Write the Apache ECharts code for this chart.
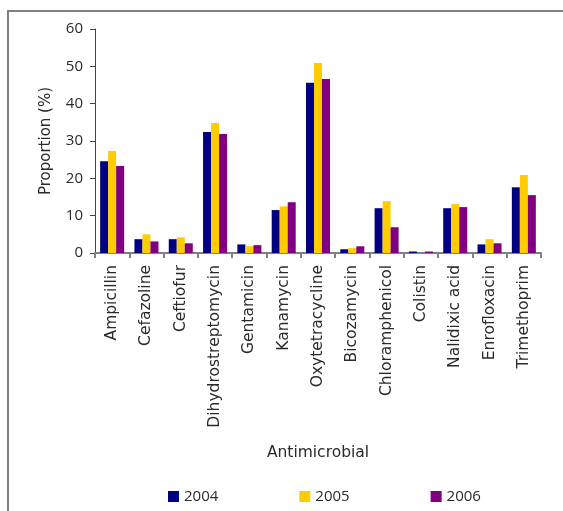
<!DOCTYPE html>
<html>
<head>
<meta charset="utf-8">
<script src="https://cdn.jsdelivr.net/npm/echarts@6/dist/echarts.min.js"></script>
<style>
  html, body { margin: 0; padding: 0; background: #fff; }
  #chart { width: 563px; height: 511px; }
</style>
</head>
<body>
<div id="chart"></div>
<script>
// Antimicrobial resistance proportions by year
const categories = ['Ampicillin', 'Cefazoline', 'Ceftiofur', 'Dihydrostreptomycin', 'Gentamicin',
  'Kanamycin', 'Oxytetracycline', 'Bicozamycin', 'Chloramphenicol', 'Colistin',
  'Nalidixic acid', 'Enrofloxacin', 'Trimethoprim'];
const years = ['2004', '2005', '2006'];
const values2004 = [24.6, 3.7, 3.7, 32.4, 2.3, 11.5, 45.6, 1.0, 12.0, 0.4, 12.0, 2.3, 17.6];
const values2005 = [27.3, 5.0, 4.2, 34.8, 1.8, 12.5, 50.9, 1.3, 13.9, 0.0, 13.1, 3.7, 20.9];
const values2006 = [23.3, 3.1, 2.6, 31.9, 2.1, 13.6, 46.6, 1.8, 6.9, 0.4, 12.3, 2.6, 15.5];
const yTicks = [0, 10, 20, 30, 40, 50, 60];

const colors = ['#000080', '#FFCC00', '#800080'];
const wordFont = '"DejaVu Sans", Verdana, sans-serif';
const numberFont = '"Open Sans", "DejaVu Sans", sans-serif';
const textColor = '#2a2a2a';

const chart = echarts.init(document.getElementById('chart'), null, { renderer: 'canvas' });
const seriesData = [values2004, values2005, values2006];

chart.setOption({
  animation: false,
  color: colors,
  textStyle: { fontFamily: wordFont, color: textColor },
  grid: { left: 95, right: 22, top: 29, bottom: 258, containLabel: false },
  graphic: [
    {
      type: 'polyline',
      shape: { points: [[8, 511], [8, 11], [563, 11]] },
      style: { stroke: '#808080', lineWidth: 2, fill: null },
      silent: true
    }
  ],
  legend: {
    data: years,
    left: 163,
    top: 484,
    itemWidth: 11,
    itemHeight: 11,
    itemGap: 81,
    icon: 'rect',
    textStyle: { fontSize: 15, color: textColor, fontFamily: numberFont }
  },
  xAxis: {
    type: 'category',
    data: categories,
    name: 'Antimicrobial',
    nameLocation: 'middle',
    nameGap: 192,
    nameTextStyle: { fontSize: 15.5, color: textColor, fontFamily: wordFont },
    axisLine: { lineStyle: { color: '#808080', width: 2 } },
    axisTick: { show: true, alignWithLabel: false, length: 5, lineStyle: { color: '#808080', width: 2 } },
    axisLabel: { rotate: 90, fontSize: 15.5, color: textColor, margin: 12, interval: 0, fontFamily: wordFont },
    splitLine: { show: false }
  },
  yAxis: {
    type: 'value',
    min: 0,
    max: 60,
    interval: 10,
    name: 'Proportion (%)',
    nameLocation: 'middle',
    nameGap: 41,
    nameRotate: 90,
    nameTextStyle: { fontSize: 15, color: textColor, fontFamily: wordFont },
    axisLine: { show: true, lineStyle: { color: '#444', width: 1 } },
    axisTick: { show: true, length: 5, lineStyle: { color: '#444' } },
    axisLabel: {
      fontSize: 15, color: textColor, margin: 12, fontFamily: numberFont,
      formatter: function (v) { return yTicks.indexOf(v) >= 0 ? String(v) : ''; }
    },
    splitLine: { show: false }
  },
  series: years.map(function (y, i) {
    return {
      name: y,
      type: 'bar',
      data: seriesData[i],
      barGap: '0%',
      barCategoryGap: '30%'
    };
  })
});
</script>
</body>
</html>
